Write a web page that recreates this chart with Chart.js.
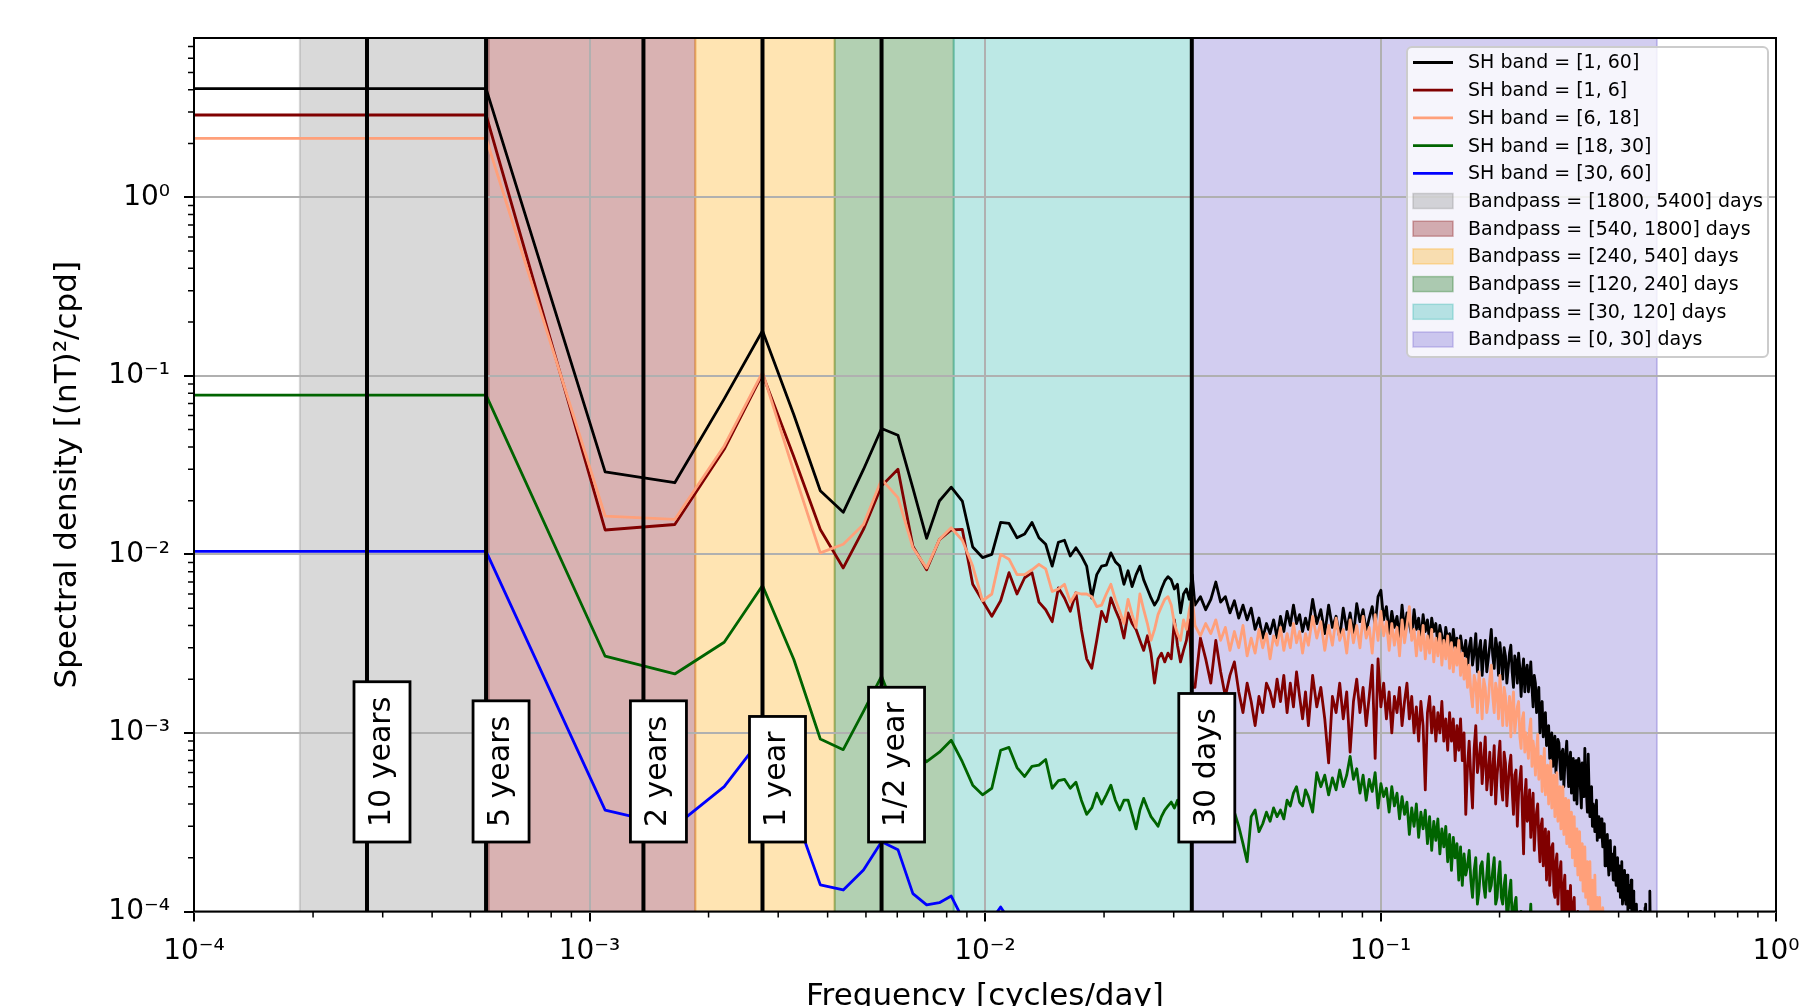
<!DOCTYPE html>
<html>
<head>
<meta charset="utf-8">
<title>Spectral density per SH band</title>
<script src="https://cdn.jsdelivr.net/npm/chart.js@4.4.1/dist/chart.umd.min.js"></script>
<style>
  html, body { margin: 0; padding: 0; background: #fff; }
  #wrap { width: 1809px; height: 1006px; }
</style>
</head>
<body>
<div id="wrap"><canvas id="psd" width="1809" height="1006"></canvas></div>
<script>
// Periodogram bins: bin k sits at k / recordDays cycles/day
const recordDays = 1826;
const dcFreq = 1e-6; // zero-frequency bin, clipped onto the log axis

const freqIndex = [
  0, 1, 2, 3, 4, 5, 6, 7, 8, 9,
  10, 11, 12, 13, 14, 15, 16, 17, 18, 19,
  20, 21, 22, 23, 24, 25, 26, 27, 28, 29,
  30, 31, 32, 33, 34, 35, 36, 37, 38, 39,
  40, 41, 42, 43, 44, 45, 46, 47, 48, 49,
  50, 51, 52, 53, 54, 55, 56, 57, 58, 59,
  60, 61,
  62, 64, 66, 68, 70, 72, 74, 76, 78, 80,
  82, 84, 86, 88, 90, 92, 94, 96, 98, 100,
  102, 104, 106, 108, 110, 112, 114, 116, 118, 120,
  123, 126, 129, 132, 135, 138, 141, 144, 147, 150,
  153, 156, 159, 162, 165, 168, 171, 174, 177, 180,
  183, 186, 189, 192, 195, 198, 201, 204, 207, 210,
  213, 216, 219, 222, 225, 228, 231, 234, 237, 240,
  243, 246, 249, 252, 255, 258, 261, 264, 267, 270,
  273, 276, 279, 282, 285, 288, 291, 294, 297, 300,
  303, 306, 309, 312, 315, 318, 321, 324, 327, 330,
  333, 336, 339, 342, 345, 348, 351, 354, 357, 360,
  363, 366, 369, 372, 375, 378, 381, 384, 387, 390,
  393, 396, 399, 402, 405, 408, 411, 414, 417, 420,
  423, 426, 429, 432, 435, 438, 441, 444, 447, 450,
  453, 456, 459, 462, 465, 468, 471, 474, 477, 480,
  483, 486, 489, 492, 495, 498, 501, 504, 507, 510,
  513, 516, 519, 522, 525, 528, 531, 534, 537, 540,
  543, 546, 549, 552, 555, 558, 561, 564, 567, 570,
  573, 576, 579, 582, 585, 588, 591, 594, 597, 600,
  603, 606, 609, 612, 615, 618, 621, 624, 627, 630,
  633, 636, 639, 642, 645, 648, 651, 654, 657, 660,
  663, 666, 669, 672, 675, 678, 681, 684, 687, 690,
  693, 696, 699, 702, 705, 708, 711, 714, 717, 720,
  723, 726, 729, 732, 735, 738, 741, 744, 747, 750,
  753, 756, 759, 762, 765, 768, 771, 774, 777, 780,
  783, 786, 789, 792, 795, 798, 801, 804, 807, 810,
  813, 816, 819, 822, 825, 828, 831, 834, 837, 840,
  843, 846, 849, 852, 855, 858, 861, 864, 867, 870,
  873, 876, 879, 882, 885, 888, 891, 894, 897, 900,
  903, 906, 909, 912
];

// SH band = [1, 60]
const shAll = [
  4.06, 4.06, 0.0290, 0.0252, 0.0743, 0.179, 0.0606, 0.0227, 0.0172, 0.0299,
  0.0507, 0.0465, 0.0235, 0.0123, 0.0199, 0.0238, 0.0199, 0.0110, 0.0096, 0.0100,
  0.0151, 0.0149, 0.0124, 0.0130, 0.0151, 0.0124, 0.0114, 0.0086, 0.0117, 0.0120,
  0.0098, 0.0109, 0.0098, 0.0086, 0.0057, 0.0077, 0.0086, 0.0087, 0.0102, 0.0091,
  0.0086, 0.0068, 0.0081, 0.0066, 0.0077, 0.0086, 0.0072, 0.0064, 0.0057, 0.0052,
  0.0056, 0.0064, 0.0071, 0.0075, 0.0072, 0.0064, 0.0068, 0.0047, 0.0060, 0.0064,
  0.0056, 0.0077,
  0.0052, 0.0058, 0.0049, 0.0056, 0.0070, 0.0054, 0.0058, 0.0047, 0.0055, 0.0044,
  0.0052, 0.0043, 0.0050, 0.0038, 0.0044, 0.0034, 0.0041, 0.0036, 0.0043, 0.0034,
  0.0045, 0.0037, 0.0048, 0.0040, 0.0052, 0.0041, 0.0046, 0.0037, 0.0044, 0.0038,
  0.0056, 0.0041, 0.0049, 0.0036, 0.0052, 0.0039, 0.0045, 0.0034, 0.0050, 0.0038,
  0.0047, 0.0035, 0.0053, 0.0042, 0.0049, 0.0037, 0.0044, 0.0051, 0.0040, 0.0058,
  0.0063, 0.0043, 0.0051, 0.0036, 0.0048, 0.0039, 0.0045, 0.0034, 0.0052, 0.0038,
  0.0047, 0.0041, 0.0035, 0.0049, 0.0038, 0.0044, 0.0033, 0.0046, 0.0037, 0.0043,
  0.0032, 0.0044, 0.0037, 0.0041, 0.0031, 0.0040, 0.0035, 0.0029, 0.0039, 0.0033,
  0.0036, 0.0028, 0.0038, 0.0030, 0.0034, 0.0026, 0.0035, 0.0030, 0.0027, 0.0033,
  0.0023, 0.0030, 0.0034, 0.0024, 0.0028, 0.0036, 0.0022, 0.0029, 0.0033, 0.0021,
  0.0028, 0.0033, 0.0022, 0.0026, 0.0031, 0.0038, 0.0027, 0.0023, 0.0034, 0.0030,
  0.0021, 0.0032, 0.0026, 0.0020, 0.0030, 0.0027, 0.0019, 0.0023, 0.0028, 0.0031,
  0.0022, 0.0018, 0.0027, 0.0025, 0.0019, 0.0028, 0.0023, 0.0016, 0.0022, 0.0026,
  0.0017, 0.0022, 0.0024, 0.0017, 0.0020, 0.0025, 0.0018, 0.0014, 0.0021, 0.0019,
  0.0013, 0.0016, 0.0018, 0.0010, 0.0014, 0.0015, 0.00095, 0.0012, 0.0013, 0.00085,
  0.00098, 0.0011, 0.00072, 0.00092, 0.00100, 0.00065, 0.00085, 0.00096, 0.00060, 0.00074,
  0.00092, 0.00088, 0.00068, 0.00055, 0.00078, 0.00081, 0.00050, 0.00066, 0.00076, 0.00090,
  0.00064, 0.00050, 0.00070, 0.00078, 0.00046, 0.00060, 0.00072, 0.00042, 0.00058, 0.00070,
  0.00040, 0.00056, 0.00072, 0.00066, 0.00048, 0.00038, 0.00068, 0.00060, 0.00044, 0.00082,
  0.00055, 0.00045, 0.00036, 0.00076, 0.00048, 0.00034, 0.00044, 0.00050, 0.00030, 0.00040,
  0.00036, 0.00028, 0.00035, 0.00042, 0.00025, 0.00034, 0.00031, 0.00026, 0.00029, 0.00033,
  0.00027, 0.00023, 0.00026, 0.00031, 0.00018, 0.00020, 0.00025, 0.00027, 0.00019, 0.00016,
  0.00022, 0.00025, 0.00017, 0.00021, 0.00019, 0.00015, 0.00020, 0.00023, 0.00016, 0.00014,
  0.00018, 0.00020, 0.00013, 0.00016, 0.00018, 0.00012, 0.00015, 0.00019, 0.00011, 0.00013,
  0.00016, 0.00017, 0.00012, 0.00011, 0.00014, 0.00016, 0.00010, 0.00013, 0.00014, 0.000105,
  0.00012, 0.00015, 0.00009, 0.000095, 0.00013, 0.00012, 0.000085, 0.00008, 0.000105, 0.00011,
  0.00008, 0.000095, 0.00009, 0.00007, 0.000095, 0.00010, 0.00006, 0.00008, 0.00009, 0.00006,
  0.00008, 0.000095, 0.00007, 0.000105, 0.00011, 0.00006, 0.00007, 0.000085, 0.00006, 0.00005,
  0.00009, 0.00013, 0.00007, 0.00006, 0.00008, 0.00008, 0.00005, 0.00005, 0.00006, 0.00007,
  0.00005, 0.000045, 0.00006, 0.00005
];

// SH band = [1, 6]
const sh1to6 = [
  2.89, 2.89, 0.0137, 0.0147, 0.0388, 0.1022, 0.0352, 0.0138, 0.0084, 0.0138,
  0.0242, 0.0300, 0.0111, 0.0082, 0.0121, 0.0137, 0.0138, 0.0068, 0.0055, 0.0045,
  0.0055, 0.0079, 0.0060, 0.0074, 0.0079, 0.0054, 0.0049, 0.0042, 0.0065, 0.0057,
  0.0048, 0.0061, 0.0038, 0.0026, 0.0023, 0.0033, 0.0048, 0.0042, 0.0057, 0.0049,
  0.0043, 0.0034, 0.0047, 0.0041, 0.0038, 0.0033, 0.0029, 0.0035, 0.0028, 0.0019,
  0.0026, 0.0028, 0.0025, 0.0028, 0.0026, 0.0043, 0.0031, 0.0025, 0.0029, 0.0033,
  0.0043, 0.0018,
  0.0018, 0.0034, 0.0026, 0.0019, 0.0033, 0.0022, 0.0016, 0.0021, 0.0025, 0.0017,
  0.0013, 0.0019, 0.0015, 0.0011, 0.0016, 0.0013, 0.0019, 0.0017, 0.0014, 0.0020,
  0.0015, 0.0021, 0.0013, 0.0019, 0.0014, 0.0022, 0.0016, 0.0012, 0.0017, 0.0011,
  0.0021, 0.0014, 0.0018, 0.0012, 0.00068, 0.0016, 0.0013, 0.0019, 0.0012, 0.0017,
  0.00078, 0.0015, 0.0020, 0.0013, 0.0018, 0.0011, 0.0016, 0.0024, 0.00072, 0.0026,
  0.0014, 0.0019, 0.0012, 0.0017, 0.0010, 0.0016, 0.0013, 0.0018, 0.0011, 0.0015,
  0.0019, 0.0012, 0.0016, 0.0010, 0.0014, 0.0009, 0.0015, 0.0011, 0.00048, 0.0013,
  0.0016, 0.0010, 0.0014, 0.0009, 0.0013, 0.0010, 0.0015, 0.0009, 0.0012, 0.0008,
  0.0013, 0.0009, 0.0012, 0.0007, 0.0011, 0.0008, 0.0012, 0.0007, 0.0010, 0.00035,
  0.00065, 0.0009, 0.00055, 0.00038, 0.00082, 0.0011, 0.00060, 0.0007, 0.00088, 0.00052,
  0.00070, 0.00095, 0.00048, 0.0006, 0.00078, 0.00045, 0.00062, 0.00085, 0.00040, 0.00058,
  0.00072, 0.0009, 0.00050, 0.00042, 0.00078, 0.00068, 0.00039, 0.00052, 0.00066, 0.00075,
  0.00048, 0.00035, 0.00058, 0.00062, 0.00030, 0.00046, 0.00055, 0.00065, 0.00036, 0.00021,
  0.00044, 0.00055, 0.00032, 0.00034, 0.00048, 0.00026, 0.00038, 0.00046, 0.00022, 0.00030,
  0.00036, 0.00040, 0.00025, 0.00019, 0.00030, 0.00033, 0.00018, 0.00024, 0.00029, 0.00015,
  0.00022, 0.00028, 0.00014, 0.00018, 0.00023, 0.00024, 0.00013, 0.00012, 0.00019, 0.00021,
  0.00011, 0.00015, 0.00017, 0.00019, 0.00010, 0.00010, 0.00014, 0.00016, 0.00009, 0.00012,
  0.00013, 0.000085, 0.00011, 0.00014, 0.00008, 0.000095, 0.00011, 0.00012, 0.00007, 0.00007,
  0.00009, 0.0001, 0.00006, 0.00006, 0.00008, 0.000085, 0.00005, 0.00005, 0.00006, 0.00006
];

// SH band = [6, 18]
const sh6to18 = [
  2.14, 2.14, 0.0164, 0.0157, 0.0405, 0.1045, 0.0291, 0.0102, 0.0114, 0.0147,
  0.0263, 0.0208, 0.0109, 0.0084, 0.0121, 0.0141, 0.0120, 0.0086, 0.0055, 0.0060,
  0.0100, 0.0094, 0.0077, 0.0077, 0.0082, 0.0088, 0.0083, 0.0062, 0.0064, 0.0068,
  0.0054, 0.0061, 0.0060, 0.0060, 0.0058, 0.0051, 0.0052, 0.0060, 0.0068, 0.0056,
  0.0048, 0.0041, 0.0056, 0.0046, 0.0039, 0.0060, 0.0049, 0.0041, 0.0033, 0.0038,
  0.0046, 0.0051, 0.0056, 0.0058, 0.0052, 0.0041, 0.0036, 0.0033, 0.0043, 0.0038,
  0.0049, 0.0058,
  0.0040, 0.0035, 0.0041, 0.0036, 0.0043, 0.0033, 0.0039, 0.0029, 0.0037, 0.0030,
  0.0040, 0.0027, 0.0034, 0.0028, 0.0038, 0.0030, 0.0036, 0.0026, 0.0035, 0.0031,
  0.0039, 0.0029, 0.0036, 0.0030, 0.0041, 0.0032, 0.0037, 0.0028, 0.0036, 0.0031,
  0.0045, 0.0034, 0.0042, 0.0029, 0.0040, 0.0031, 0.0044, 0.0033, 0.0038, 0.0028,
  0.0043, 0.0032, 0.0040, 0.0030, 0.0045, 0.0034, 0.0039, 0.0028, 0.0046, 0.0033,
  0.0048, 0.0035, 0.0042, 0.0029, 0.0041, 0.0031, 0.0039, 0.0027, 0.0043, 0.0032,
  0.0040, 0.0051, 0.0033, 0.0038, 0.0027, 0.0037, 0.0029, 0.0040, 0.0026, 0.0035,
  0.0028, 0.0038, 0.0025, 0.0034, 0.0027, 0.0036, 0.0024, 0.0033, 0.0026, 0.0035,
  0.0023, 0.0032, 0.0022, 0.0030, 0.0024, 0.0033, 0.0021, 0.0028, 0.0020, 0.0026,
  0.0018, 0.0024, 0.0017, 0.0014, 0.0021, 0.0019, 0.0013, 0.0022, 0.0017, 0.0012,
  0.0020, 0.0018, 0.0013, 0.0015, 0.0020, 0.0024, 0.0016, 0.0013, 0.0019, 0.0017,
  0.0012, 0.0021, 0.0015, 0.0011, 0.0018, 0.0016, 0.0011, 0.0013, 0.0016, 0.00095,
  0.0014, 0.0017, 0.0010, 0.0012, 0.0014, 0.0015, 0.00095, 0.00082, 0.0012, 0.0013,
  0.00078, 0.0010, 0.00088, 0.00072, 0.00105, 0.0012, 0.00065, 0.00090, 0.00078, 0.00058,
  0.00080, 0.00098, 0.00055, 0.00070, 0.00074, 0.00047, 0.00062, 0.00082, 0.00045, 0.00060,
  0.00066, 0.00040, 0.00055, 0.00070, 0.00038, 0.00052, 0.00058, 0.00034, 0.00048, 0.00060,
  0.00032, 0.00042, 0.00050, 0.00029, 0.00040, 0.00050, 0.00027, 0.00036, 0.00043, 0.00024,
  0.00034, 0.00042, 0.00023, 0.00030, 0.00036, 0.00020, 0.00027, 0.00034, 0.00018, 0.00024,
  0.00029, 0.00016, 0.00022, 0.00028, 0.00015, 0.00019, 0.00024, 0.00013, 0.00018, 0.00023,
  0.00012, 0.00016, 0.00019, 0.00011, 0.00015, 0.00019, 0.00010, 0.00013, 0.00015, 0.000095,
  0.00012, 0.00016, 0.00009, 0.00011, 0.00012, 0.00008, 0.000105, 0.00012, 0.00007, 0.000085,
  0.00009, 0.000105, 0.00007, 0.00006
];

// SH band = [18, 30]
const sh18to30 = [
  0.078, 0.078, 0.00269, 0.00214, 0.00322, 0.0067, 0.00258, 0.000925, 0.000806, 0.00132,
  0.00208, 0.0012, 0.00085, 0.00069, 0.00078, 0.00091, 0.00069, 0.00051, 0.00045, 0.00049,
  0.00080, 0.00083, 0.00064, 0.00057, 0.00065, 0.00066, 0.00071, 0.00049, 0.00054, 0.00055,
  0.00049, 0.00053, 0.00042, 0.00035, 0.00038, 0.00046, 0.00040, 0.00045, 0.00051, 0.00042,
  0.00037, 0.00042, 0.00042, 0.00035, 0.00029, 0.00037, 0.00043, 0.00038, 0.00034, 0.00032,
  0.00030, 0.00034, 0.00037, 0.00039, 0.00041, 0.00038, 0.00042, 0.00036, 0.00033, 0.00030,
  0.00034, 0.00031,
  0.00032, 0.00028, 0.00035, 0.00030, 0.00033, 0.00027, 0.00031, 0.00026, 0.00036, 0.00030,
  0.00024, 0.00019, 0.00034, 0.00037, 0.00028, 0.00031, 0.00036, 0.00032, 0.00038, 0.00034,
  0.00037, 0.00033, 0.00042, 0.00039, 0.00046, 0.00050, 0.00041, 0.00039, 0.00048, 0.00044,
  0.00036, 0.00060, 0.00050, 0.00058, 0.00045, 0.00056, 0.00048, 0.00062, 0.00050, 0.00058,
  0.00074, 0.00055, 0.00063, 0.00046, 0.00058, 0.00042, 0.00055, 0.00047, 0.00060, 0.00038,
  0.00052, 0.00044, 0.00049, 0.00036, 0.00050, 0.00039, 0.00046, 0.00033, 0.00044, 0.00035,
  0.00041, 0.00027, 0.00038, 0.00030, 0.00040, 0.00026, 0.00036, 0.00029, 0.00037, 0.00024,
  0.00034, 0.00022, 0.00032, 0.00025, 0.00033, 0.00021, 0.00029, 0.00023, 0.00030, 0.00019,
  0.00027, 0.00017, 0.00026, 0.00020, 0.00024, 0.00015, 0.00023, 0.00014, 0.00021, 0.00016,
  0.00018, 0.00022, 0.00015, 0.00012, 0.00017, 0.00020, 0.00011, 0.00013, 0.00018, 0.00019,
  0.00014, 0.00012, 0.00016, 0.00021, 0.00013, 0.00014, 0.00017, 0.00020, 0.00011, 0.00012,
  0.00016, 0.00019, 0.00012, 0.00011, 0.00014, 0.00016, 0.000095, 0.00010, 0.00013, 0.00015,
  0.00009, 0.000095, 0.00011, 0.00012, 0.00008, 0.00008, 0.00009, 0.00010, 0.00007, 0.00007,
  0.00009, 0.00008, 0.00006, 0.00006, 0.00008, 0.00011, 0.00007, 0.00005
];

// SH band = [30, 60]
const sh30to60 = [
  0.0104, 0.0104, 0.00037, 0.00030, 0.00050, 0.00095, 0.00037, 0.000141, 0.000132, 0.000171,
  0.000246, 0.000222, 0.000126, 0.000109, 0.000112, 0.000122, 0.000092, 0.000075, 0.00008, 0.00009,
  0.000106, 0.00009, 0.00006
];

const seriesValues = [shAll, sh1to6, sh6to18, sh18to30, sh30to60];
const seriesLabels = ['SH band = [1, 60]', 'SH band = [1, 6]', 'SH band = [6, 18]', 'SH band = [18, 30]', 'SH band = [30, 60]'];
const seriesColors = ['#000000', '#800000', '#ffa07a', '#006400', '#0000ff'];

// Bandpass windows in days (0 days -> Nyquist)
const bandDays = [[1800, 5400], [540, 1800], [240, 540], [120, 240], [30, 120], [0, 30]];
const bandColors = ['rgba(128,128,128,0.3)', 'rgba(128,0,0,0.3)', 'rgba(255,165,0,0.3)',
                    'rgba(0,100,0,0.3)', 'rgba(32,178,170,0.3)', 'rgba(106,90,205,0.3)'];
const nyquist = 0.5;

// Reference periods
const markerDays = [3652.5, 1826.25, 730.5, 365.25, 182.625, 30];
const markerLabels = ['10 years', '5 years', '2 years', '1 year', '1/2 year', '30 days'];
const markerBase = 2.45e-4;

const xDecades = [1e-4, 1e-3, 1e-2, 1e-1, 1];
const yDecades = [1e-4, 1e-3, 1e-2, 1e-1, 1];
const yMin = 1e-4, yMax = 7.8;

const FONT = '"DejaVu Sans", sans-serif';
Chart.defaults.font.family = FONT;

const SUP = { '-': '\u207b', '0': '\u2070', '1': '\u00b9', '2': '\u00b2', '3': '\u00b3', '4': '\u2074' };
function decadeLabel(v) {
  const e = String(Math.round(Math.log10(v)));
  return '10' + e.split('').map(c => SUP[c]).join('');
}

function toPoints(values) {
  return values.map((v, i) => ({
    x: freqIndex[i] === 0 ? dcFreq : freqIndex[i] / recordDays,
    y: v
  }));
}

const overlay = {
  id: 'overlay',
  beforeDraw(chart) {
    const { ctx, chartArea: a, scales: { x } } = chart;
    ctx.save();
    ctx.beginPath();
    ctx.rect(a.left, a.top, a.right - a.left, a.bottom - a.top);
    ctx.clip();
    bandDays.forEach(([lo, hi], i) => {
      const x0 = x.getPixelForValue(1 / hi);
      const x1 = x.getPixelForValue(lo === 0 ? nyquist : 1 / lo);
      ctx.fillStyle = bandColors[i];
      ctx.fillRect(x0, a.top, x1 - x0, a.bottom - a.top);
      ctx.strokeStyle = bandColors[i];
      ctx.lineWidth = 2;
      ctx.beginPath();
      ctx.moveTo(x0, a.top); ctx.lineTo(x0, a.bottom);
      ctx.moveTo(x1, a.top); ctx.lineTo(x1, a.bottom);
      ctx.stroke();
    });
    ctx.restore();
  },
  afterDatasetsDraw(chart) {
    const { ctx, chartArea: a, scales: { x, y } } = chart;
    ctx.save();
    ctx.strokeStyle = '#000';
    ctx.lineWidth = 4;
    markerDays.forEach(d => {
      const px = x.getPixelForValue(1 / d);
      ctx.beginPath();
      ctx.moveTo(px, a.top);
      ctx.lineTo(px, a.bottom);
      ctx.stroke();
    });
    ctx.font = '30px ' + FONT;
    const base = y.getPixelForValue(markerBase);
    markerDays.forEach((d, i) => {
      const px = x.getPixelForValue(1 / d);
      const tw = ctx.measureText(markerLabels[i]).width;
      const bw = 56, bh = tw + 30, bx = px - 13, by = base - bh;
      ctx.fillStyle = '#fff';
      ctx.fillRect(bx, by, bw, bh);
      ctx.lineWidth = 2.8;
      ctx.strokeRect(bx, by, bw, bh);
      ctx.save();
      ctx.translate(bx + bw / 2, base - 15);
      ctx.rotate(-Math.PI / 2);
      ctx.fillStyle = '#000';
      ctx.textAlign = 'left';
      ctx.textBaseline = 'middle';
      ctx.fillText(markerLabels[i], 0, 0);
      ctx.restore();
    });
    ctx.restore();
  },
  afterDraw(chart) {
    const { ctx, chartArea: a, scales: { x, y } } = chart;
    ctx.save();
    // frame
    ctx.strokeStyle = '#000';
    ctx.lineWidth = 2;
    ctx.strokeRect(a.left, a.top, a.right - a.left, a.bottom - a.top);

    // minor ticks
    ctx.lineWidth = 1.5;
    ctx.beginPath();
    for (let e = -4; e <= -1; e++) {
      for (let m = 2; m <= 9; m++) {
        const px = x.getPixelForValue(m * Math.pow(10, e));
        ctx.moveTo(px, a.bottom);
        ctx.lineTo(px, a.bottom + 6);
      }
    }
    for (let e = -4; e <= 0; e++) {
      for (let m = 2; m <= 9; m++) {
        const v = m * Math.pow(10, e);
        if (v > yMax) continue;
        const py = y.getPixelForValue(v);
        ctx.moveTo(a.left - 6, py);
        ctx.lineTo(a.left, py);
      }
    }
    ctx.stroke();

    // axis titles
    ctx.fillStyle = '#000';
    ctx.font = '31px ' + FONT;
    ctx.textAlign = 'center';
    ctx.textBaseline = 'alphabetic';
    ctx.fillText('Frequency [cycles/day]', (a.left + a.right) / 2, 1005);
    ctx.save();
    ctx.translate(68, (a.top + a.bottom) / 2);
    ctx.rotate(-Math.PI / 2);
    ctx.textBaseline = 'middle';
    ctx.fillText('Spectral density [(nT)\u00b2/cpd]', 0, 0);
    ctx.restore();

    // legend
    const lx = a.right - 369, ly = a.top + 9, lw = 361, lh = 310;
    ctx.beginPath();
    ctx.roundRect(lx, ly, lw, lh, 5);
    ctx.fillStyle = 'rgba(255,255,255,0.8)';
    ctx.fill();
    ctx.strokeStyle = '#cccccc';
    ctx.lineWidth = 2;
    ctx.stroke();
    ctx.font = '19px ' + FONT;
    ctx.textAlign = 'left';
    ctx.textBaseline = 'middle';
    const rowY = i => ly + 15.5 + i * 27.7;
    seriesLabels.forEach((label, i) => {
      const cy = rowY(i);
      ctx.strokeStyle = seriesColors[i];
      ctx.lineWidth = 2.8;
      ctx.beginPath();
      ctx.moveTo(lx + 6, cy);
      ctx.lineTo(lx + 46, cy);
      ctx.stroke();
      ctx.fillStyle = '#000';
      ctx.fillText(label, lx + 61, cy + 1);
    });
    bandDays.forEach(([lo, hi], i) => {
      const cy = rowY(i + seriesLabels.length);
      ctx.fillStyle = bandColors[i];
      ctx.fillRect(lx + 6, cy - 7.5, 40, 15);
      ctx.strokeStyle = bandColors[i];
      ctx.lineWidth = 1.5;
      ctx.strokeRect(lx + 6, cy - 7.5, 40, 15);
      ctx.fillStyle = '#000';
      ctx.fillText('Bandpass = [' + lo + ', ' + hi + '] days', lx + 61, cy + 1);
    });
    ctx.restore();
  }
};

const axisCommon = {
  type: 'logarithmic',
  border: { display: false },
  grid: { color: '#b0b0b0', lineWidth: 2, tickColor: '#000', tickLength: 10, tickWidth: 2 },
};

new Chart(document.getElementById('psd'), {
  type: 'line',
  data: {
    datasets: seriesValues.map((vals, i) => ({
      label: seriesLabels[i],
      data: toPoints(vals),
      borderColor: seriesColors[i],
      borderWidth: 2.8,
      pointRadius: 0,
      fill: false,
      tension: 0,
      borderJoinStyle: 'round',
      clip: 0,
      order: seriesValues.length - i
    }))
  },
  options: {
    responsive: false,
    animation: false,
    events: [],
    layout: { padding: { top: 38, right: 33, left: 0, bottom: 0 } },
    plugins: { legend: { display: false }, tooltip: { enabled: false } },
    scales: {
      x: {
        ...axisCommon,
        min: 1e-4,
        max: 1,
        afterBuildTicks: s => { s.ticks = xDecades.map(v => ({ value: v, major: true })); },
        afterFit: s => { s.height = 94.5; s.paddingLeft = 0; s.paddingRight = 0; },
        ticks: {
          callback: v => decadeLabel(v),
          font: { size: 28, family: FONT },
          color: '#000',
          padding: 13,
          autoSkip: false,
          maxRotation: 0,
          minRotation: 0
        }
      },
      y: {
        ...axisCommon,
        min: yMin,
        max: yMax,
        afterBuildTicks: s => { s.ticks = yDecades.map(v => ({ value: v, major: true })); },
        afterFit: s => { s.width = 194; s.paddingTop = 0; s.paddingBottom = 0; },
        ticks: {
          callback: v => decadeLabel(v),
          font: { size: 28, family: FONT },
          color: '#000',
          padding: 14,
          autoSkip: false
        }
      }
    }
  },
  plugins: [overlay]
});
</script>
</body>
</html>
